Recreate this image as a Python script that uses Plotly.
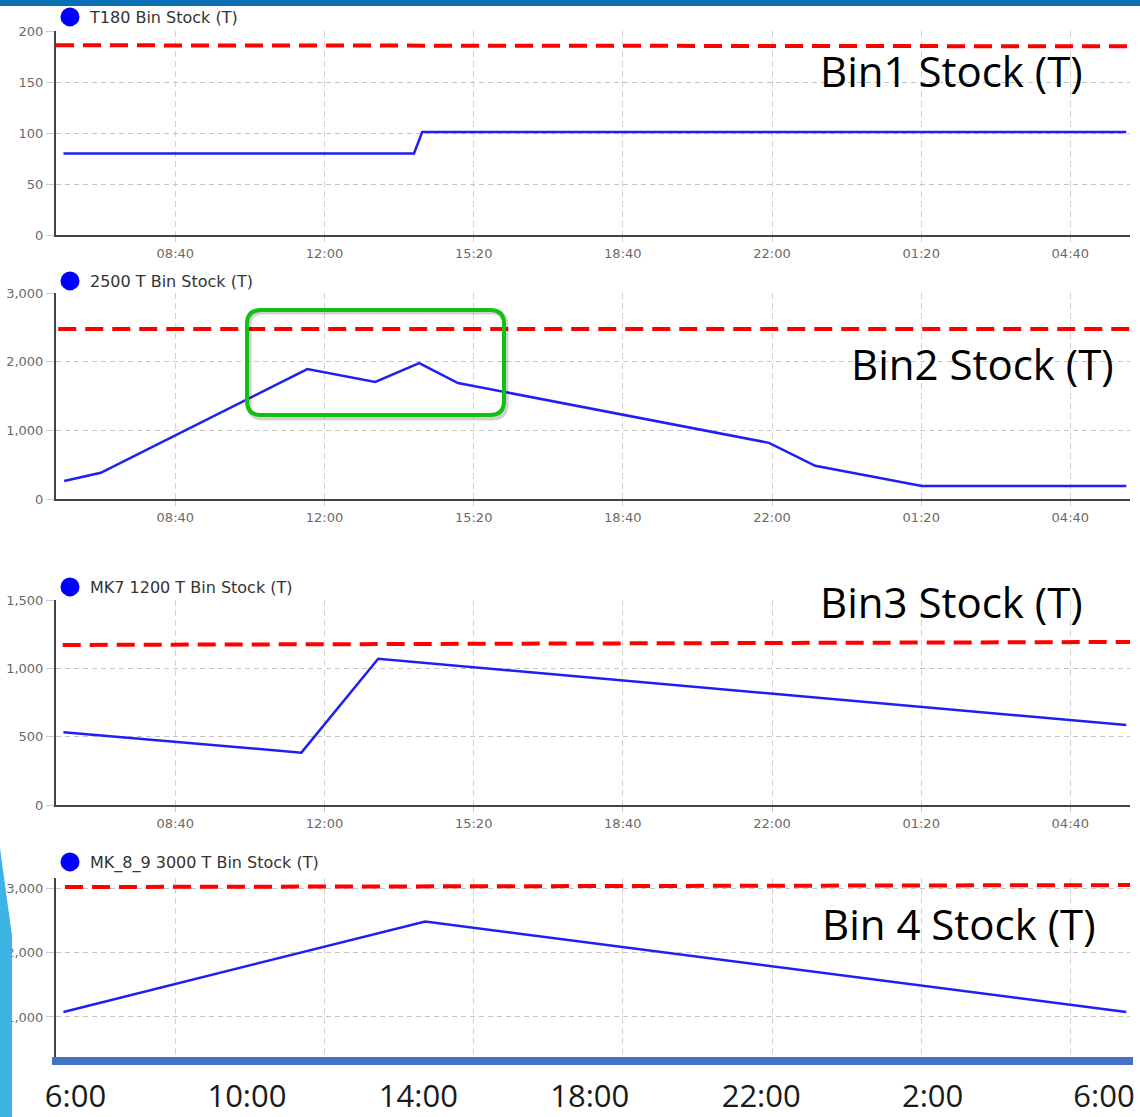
import plotly.graph_objects as go

W, H = 1140, 1117
D0 = "2021-03-01 "
D1 = "2021-03-02 "

# ---------------- data ----------------
bin1_name = "T180 Bin Stock (T)"
bin1_times = [D0 + "06:10", D0 + "14:00", D0 + "14:11", D1 + "05:55"]
bin1_stock = [80, 80, 101, 101]
bin1_limit_times = [D0 + "06:00", D1 + "06:00"]
bin1_limit = [186, 185]

bin2_name = "2500 T Bin Stock (T)"
bin2_times = [D0 + "06:11", D0 + "07:00", D0 + "11:37", D0 + "13:08", D0 + "14:07",
              D0 + "14:59", D0 + "21:56", D0 + "22:58", D1 + "01:21", D1 + "05:55"]
bin2_stock = [262, 382, 1893, 1704, 1980, 1689, 818, 484, 189, 189]
bin2_limit_times = [D0 + "06:03", D1 + "06:00"]
bin2_limit = [2476, 2476]

bin3_name = "MK7 1200 T Bin Stock (T)"
bin3_times = [D0 + "06:10", D0 + "11:29", D0 + "13:12", D1 + "05:55"]
bin3_stock = [532, 383, 1070, 585]
bin3_limit_times = [D0 + "06:09", D1 + "06:00"]
bin3_limit = [1171, 1193]

bin4_name = "MK_8_9 3000 T Bin Stock (T)"
bin4_times = [D0 + "06:10", D0 + "14:15", D1 + "05:55"]
bin4_stock = [1078, 2480, 1078]
bin4_limit_times = [D0 + "06:12", D1 + "06:00"]
bin4_limit = [3015, 3045]

big_labels = ["Bin1 Stock (T)", "Bin2 Stock (T)", "Bin3 Stock (T)", "Bin 4 Stock (T)"]

slide_hours = [6, 10, 14, 18, 22, 26, 30]
slide_hour_labels = ["6:00", "10:00", "14:00", "18:00", "22:00", "2:00", "6:00"]

# ---------------- geometry helpers ----------------
def px(x):
    return x / W

def py(y):
    return 1 - y / H

panels = [
    dict(times=bin1_times, stock=bin1_stock, lt=bin1_limit_times, lim=bin1_limit, name=bin1_name,
         top=31, bot=235, yr=[0, 200], yt=[0, 50, 100, 150, 200], leg_y=17,
         lab=(951, 71), xlabels=True),
    dict(times=bin2_times, stock=bin2_stock, lt=bin2_limit_times, lim=bin2_limit, name=bin2_name,
         top=293, bot=499, yr=[0, 3000], yt=[0, 1000, 2000, 3000], leg_y=281,
         lab=(982, 363), xlabels=True),
    dict(times=bin3_times, stock=bin3_stock, lt=bin3_limit_times, lim=bin3_limit, name=bin3_name,
         top=600, bot=805, yr=[0, 1500], yt=[0, 500, 1000, 1500], leg_y=587,
         lab=(951, 601), xlabels=True),
    dict(times=bin4_times, stock=bin4_stock, lt=bin4_limit_times, lim=bin4_limit, name=bin4_name,
         top=878, bot=1058, yr=[364, 3155], yt=[1000, 2000, 3000], leg_y=862,
         lab=(959, 923), xlabels=False),
]

X_LEFT, X_RIGHT = 56, 1130
BLUE = "#1f1ff5"
RED = "#ff0000"
TICK_FONT = dict(family="DejaVu Sans", size=13, color="#6a6a6a")

fig = go.Figure()
layout = dict(
    width=W, height=H,
    margin=dict(l=0, r=0, t=0, b=0, pad=0, autoexpand=False),
    paper_bgcolor="white", plot_bgcolor="white",
    showlegend=True,
    hovermode=False,
)

annotations = []
for i, p in enumerate(panels, start=1):
    sfx = "" if i == 1 else str(i)
    xa, ya = "x" + sfx, "y" + sfx
    leg = "legend" + sfx
    fig.add_trace(go.Scatter(x=p["lt"], y=p["lim"], mode="lines", xaxis=xa, yaxis=ya,
                             line=dict(color=RED, width=4, dash="18px,9px"),
                             showlegend=False, hoverinfo="skip"))
    fig.add_trace(go.Scatter(x=p["times"], y=p["stock"], mode="lines", xaxis=xa, yaxis=ya,
                             line=dict(color=BLUE, width=2.5), showlegend=False,
                             hoverinfo="skip", legendgroup=p["name"]))
    # legend-only entry (circle symbol like the source chart)
    fig.add_trace(go.Scatter(x=[None], y=[None], mode="markers", xaxis=xa, yaxis=ya,
                             name=p["name"], legend=leg, legendgroup=p["name"],
                             marker=dict(color="#0000ff", size=16, line=dict(color="#0000ff", width=3))))
    layout["xaxis" + sfx] = dict(
        domain=[px(X_LEFT), px(X_RIGHT)], anchor=ya, type="date", automargin=False,
        range=[D0 + "06:00", D1 + "06:00"],
        tick0=D0 + "08:40", dtick=200 * 60 * 1000, tickformat="%H:%M",
        showgrid=True, gridcolor="#d2d2d2", gridwidth=1, griddash="6px,4px",
        showline=p["xlabels"], linecolor="#444444", linewidth=2,
        ticks="outside" if p["xlabels"] else "", ticklen=5, tickcolor="#cccccc",
        showticklabels=p["xlabels"], tickfont=TICK_FONT, zeroline=False,
    )
    layout["yaxis" + sfx] = dict(
        domain=[py(p["bot"]), py(p["top"])], anchor=xa, range=p["yr"], automargin=False,
        tickvals=p["yt"], tickformat=",d",
        showgrid=True, gridcolor="#c4c4c4", gridwidth=1.3, griddash="5px,4px",
        showline=True, linecolor="#444444", linewidth=2,
        ticks="outside", ticklen=8, tickcolor="#cccccc",
        tickfont=TICK_FONT, zeroline=False,
    )
    layout[leg] = dict(
        x=px(50), y=py(p["leg_y"]), xanchor="left", yanchor="middle",
        bgcolor="rgba(0,0,0,0)", borderwidth=0, itemsizing="trace",
        font=dict(family="DejaVu Sans", size=16, color="#333333"),
    )
    annotations.append(dict(
        x=px(p["lab"][0]), y=py(p["lab"][1]), xref="paper", yref="paper",
        text=big_labels[i - 1], showarrow=False, xanchor="center", yanchor="middle",
        font=dict(family="Open Sans", size=42, color="#000000"),
    ))

# slide-level time axis (large labels beneath the charts)
fig.add_trace(go.Scatter(x=[6, 30], y=[0, 0], mode="markers", xaxis="x5", yaxis="y5",
                         marker=dict(opacity=0), showlegend=False, hoverinfo="skip"))
layout["xaxis5"] = dict(
    domain=[px(75.5), px(1104)], anchor="y5", range=[6, 30], automargin=False,
    tickvals=slide_hours, ticktext=slide_hour_labels,
    showgrid=False, showline=False, zeroline=False, ticks="",
    tickfont=dict(family="Open Sans", size=31, color="#1a1a1a"),
)
layout["yaxis5"] = dict(domain=[py(1075), py(1068)], anchor="x5", visible=False,
                        range=[0, 1], automargin=False)

layout["annotations"] = annotations

# rounded highlight box
def rrect(x0, y0, x1, y1, r):
    pts = [
        f"M {px(x0 + r)},{py(y0)}",
        f"L {px(x1 - r)},{py(y0)}",
        f"Q {px(x1)},{py(y0)} {px(x1)},{py(y0 + r)}",
        f"L {px(x1)},{py(y1 - r)}",
        f"Q {px(x1)},{py(y1)} {px(x1 - r)},{py(y1)}",
        f"L {px(x0 + r)},{py(y1)}",
        f"Q {px(x0)},{py(y1)} {px(x0)},{py(y1 - r)}",
        f"L {px(x0)},{py(y0 + r)}",
        f"Q {px(x0)},{py(y0)} {px(x0 + r)},{py(y0)}",
        "Z",
    ]
    return " ".join(pts)

shapes = [
    # top slide bar
    dict(type="rect", xref="paper", yref="paper", x0=0, x1=1, y0=py(6), y1=1,
         fillcolor="#0b6fb6", line=dict(width=0)),
    # left slide decoration
    dict(type="path", xref="paper", yref="paper",
         path=f"M {px(0)},{py(848)} L {px(12)},{py(936)} L {px(12)},{py(1117)} L {px(0)},{py(1117)} Z",
         fillcolor="#3cb5e5", line=dict(width=0)),
    # thick blue baseline under the last chart
    dict(type="line", xref="paper", yref="paper", x0=px(52), x1=px(1133), y0=py(1061), y1=py(1061),
         line=dict(color="#4472c4", width=8)),
    # highlight box shadow + box
    dict(type="path", xref="paper", yref="paper", path=rrect(249, 312, 506, 418, 14),
         line=dict(color="rgba(0,0,0,0.18)", width=5)),
    dict(type="path", xref="paper", yref="paper", path=rrect(247, 310, 504, 415, 14),
         line=dict(color="#12c012", width=4)),
]
layout["shapes"] = shapes

fig.update_layout(**layout)
fig.write_html(
    "out.html",
    config={"displayModeBar": False},
    post_script="document.body.style.margin='0';document.body.style.padding='0';"
                "document.documentElement.style.overflow='hidden';",
)
